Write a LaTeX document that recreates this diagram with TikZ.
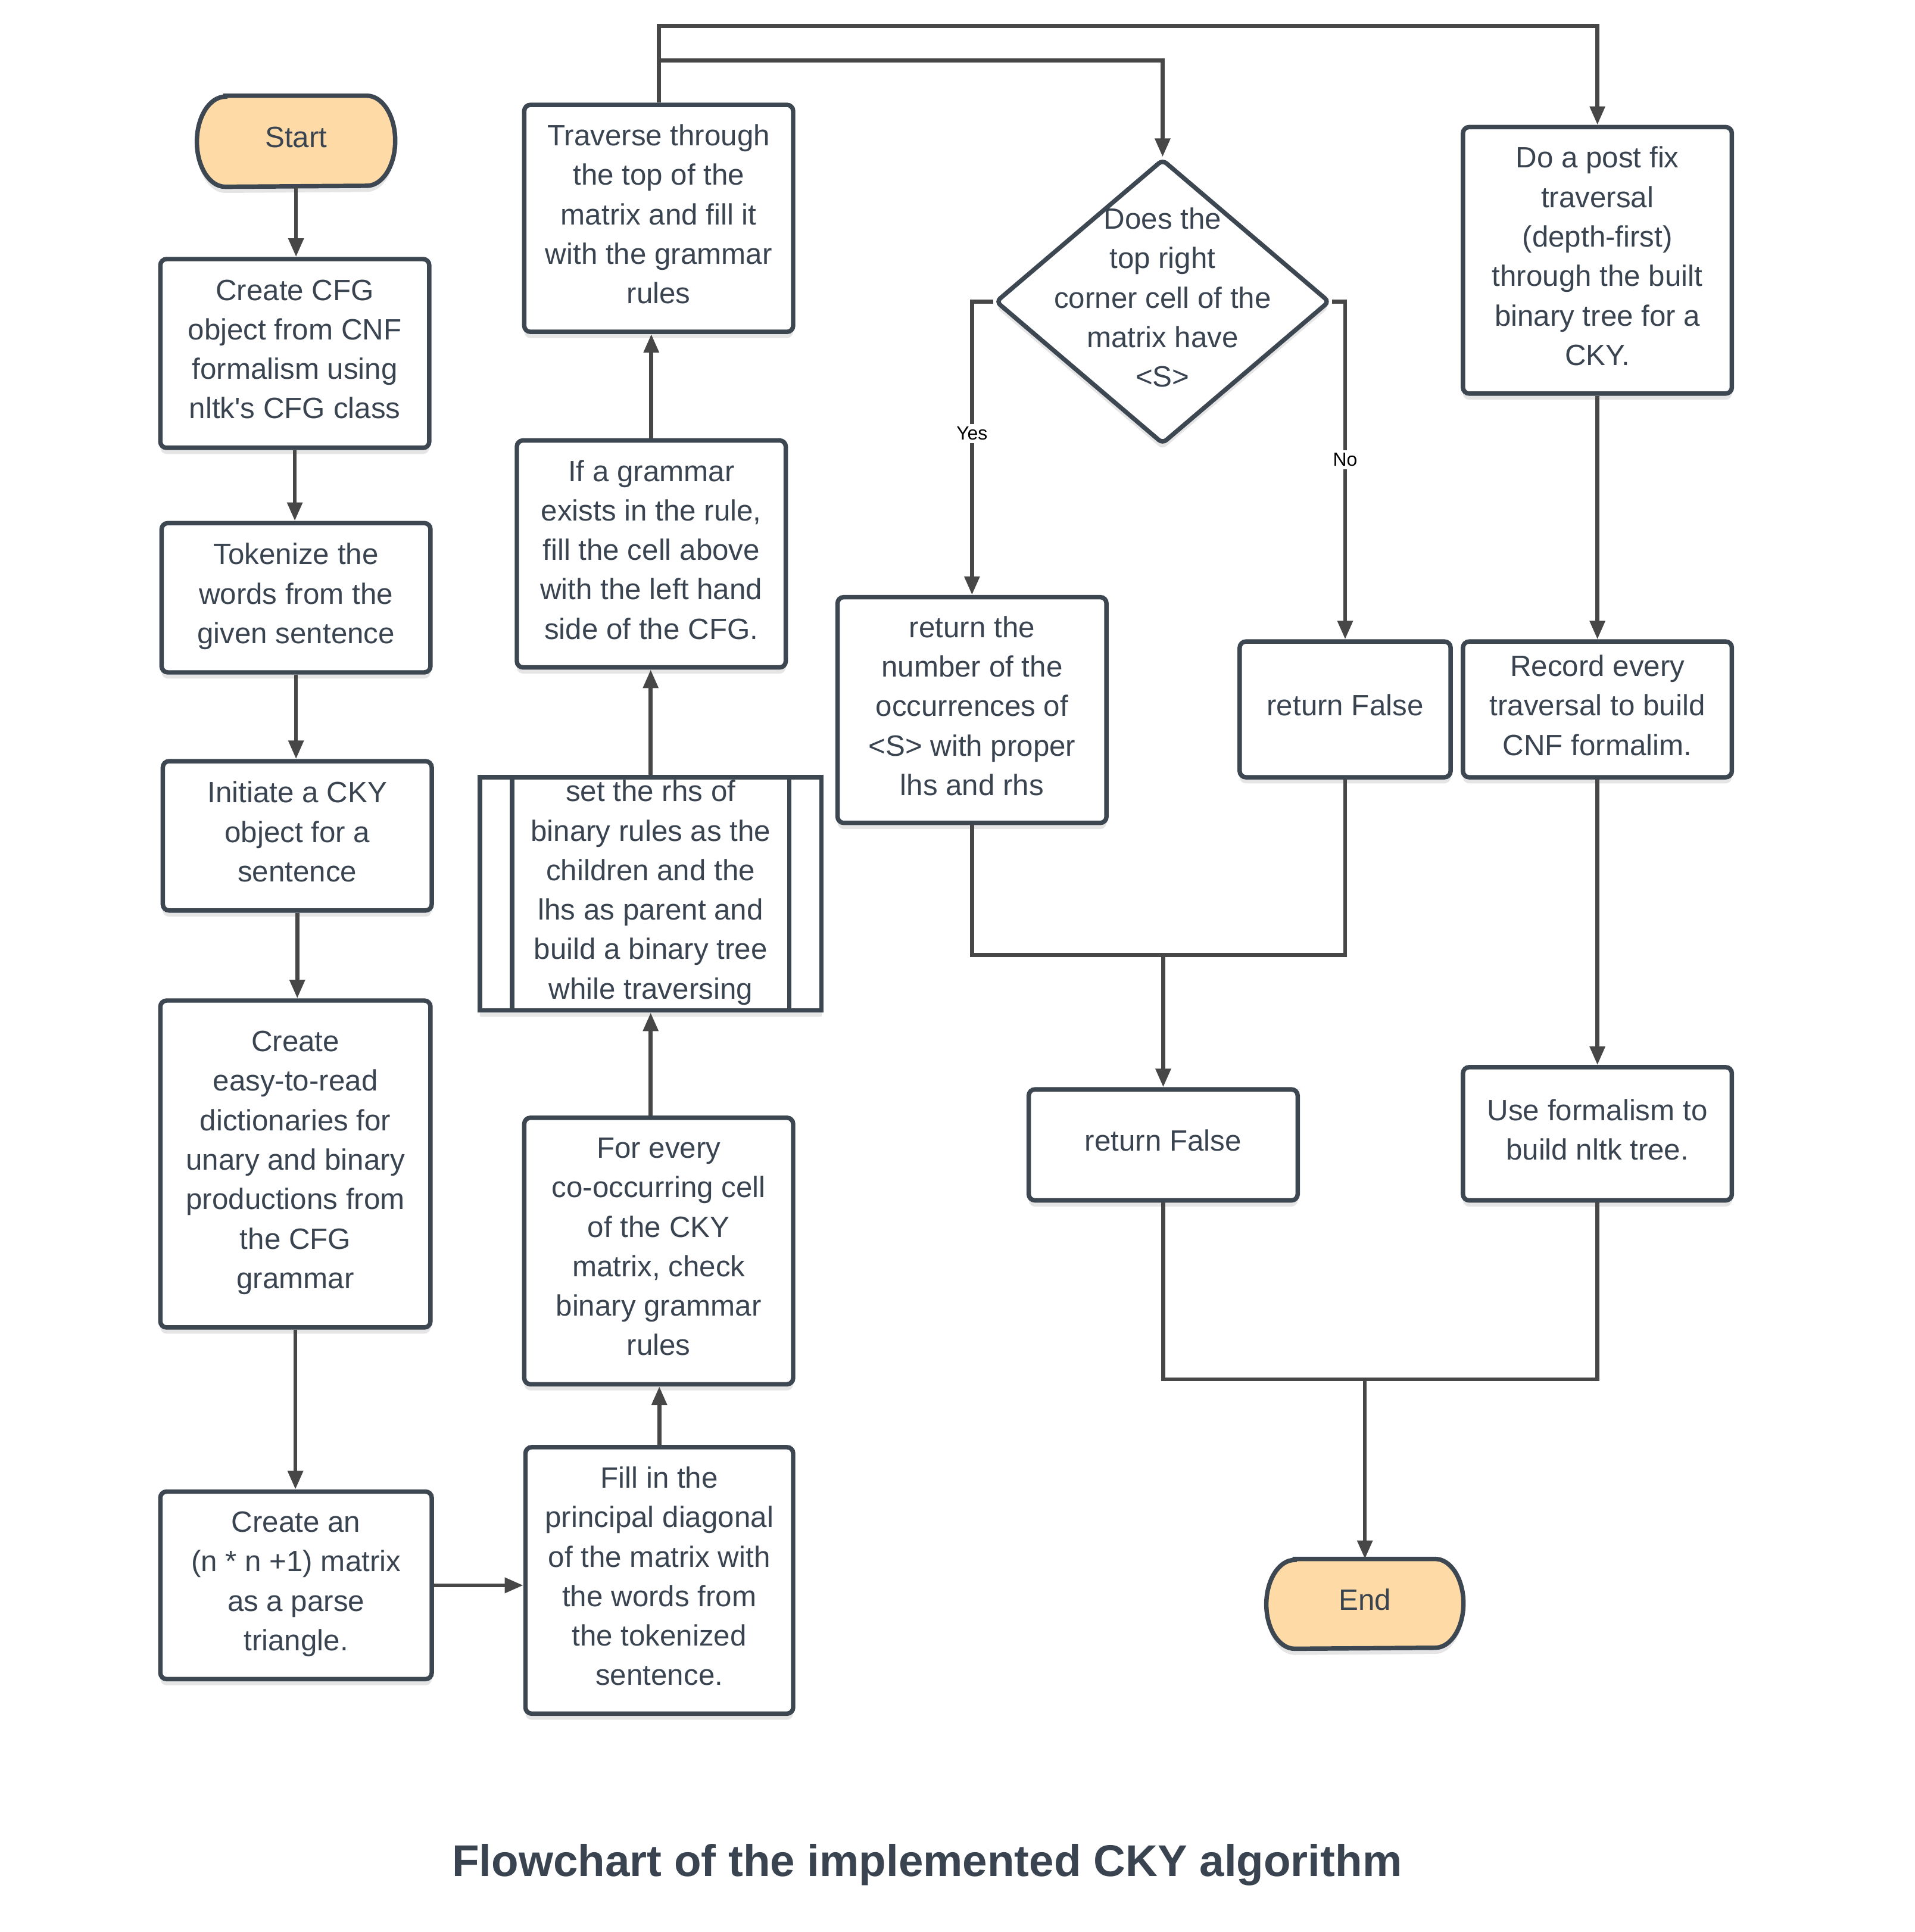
\documentclass[tikz,border=0pt]{standalone}
\usepackage{fontspec}
\setmainfont{Liberation Sans}[Ligatures=TeXOff]
\usetikzlibrary{arrows.meta,shapes.geometric,shadows,backgrounds}
\definecolor{boxc}{HTML}{3D4752}
\definecolor{linec}{HTML}{474747}
\definecolor{txtc}{HTML}{3A4450}
\definecolor{termfill}{HTML}{FDDAA6}
\tikzset{
  base/.style={font=\fontsize{11.9pt}{16pt}\selectfont, align=center, inner sep=0pt, text=txtc, text depth=3.5pt},
  shad/.style={drop shadow={shadow xshift=0pt, shadow yshift=-2.5pt, opacity=0.10, fill=black}},
  procbox/.style={base, draw=boxc, line width=1.8pt, fill=white, rounded corners=2.5pt, shad},
  subbox/.style={base, draw=boxc, line width=1.8pt, fill=white, shad},
  decbox/.style={diamond, draw=boxc, line width=1.8pt, fill=white, rounded corners=2pt, inner sep=0pt, shad},
  termtext/.style={base, draw=none},
  termshape/.style={fill=termfill, draw=boxc, line width=1.8pt, shad},
  boxline/.style={draw=boxc, line width=1.8pt},
  conn/.style={draw=linec, line width=1.6pt, -{Triangle[length=7.5pt,width=6pt]}},
  plainconn/.style={draw=linec, line width=1.6pt},
  edgelabel/.style={font=\fontsize{7.7pt}{9pt}\selectfont, text=black, fill=white, inner sep=1.2pt},
  titlestyle/.style={font=\bfseries\fontsize{18pt}{22pt}\selectfont, text=txtc, inner sep=0pt}
}
\begin{document}
\begin{tikzpicture}[x=0.5pt,y=-0.5pt]
\useasboundingbox (0,0) rectangle (1552,1566);

% left column
\node[termtext, minimum width=80pt, minimum height=36.5pt] (start) at (240,114.5) {Start};
\node[procbox, minimum width=109pt, minimum height=76.5pt] (cfg) at (239,286.5)
  {Create CFG\\object from CNF\\formalism using\\nltk's CFG class};
\node[procbox, minimum width=109pt, minimum height=60.5pt] (tok) at (240,484.5)
  {Tokenize the\\words from the\\given sentence};
\node[procbox, minimum width=109pt, minimum height=60.5pt] (init) at (241,677.5)
  {Initiate a CKY\\object for a\\sentence};
\node[procbox, minimum width=109.5pt, minimum height=132.5pt] (dict) at (239.5,943.5)
  {Create\\easy-to-read\\dictionaries for\\unary and binary\\productions from\\the CFG\\grammar};
\node[procbox, minimum width=110pt, minimum height=76pt] (mat) at (240,1285)
  {Create an\\(n * n +1) matrix\\as a parse\\triangle.};

% second column
\node[procbox, minimum width=108.5pt, minimum height=108pt] (fill) at (534.5,1281)
  {Fill in the\\principal diagonal\\of the matrix with\\the words from\\the tokenized\\sentence.};
\node[procbox, minimum width=109pt, minimum height=108pt] (every) at (534,1014)
  {For every\\co-occurring cell\\of the CKY\\matrix, check\\binary grammar\\rules};
\node[subbox, minimum width=138.5pt, minimum height=94.5pt] (sub) at (527.5,724.5)
  {set the rhs of\\binary rules as the\\children and the\\lhs as parent and\\build a binary tree\\while traversing};
\draw[boxline] ([xshift=14pt]sub.north west) -- ([xshift=14pt]sub.south west);
\draw[boxline] ([xshift=-14pt]sub.north east) -- ([xshift=-14pt]sub.south east);
\node[procbox, minimum width=109pt, minimum height=92pt] (ifg) at (528,449)
  {If a grammar\\exists in the rule,\\fill the cell above\\with the left hand\\side of the CFG.};
\node[procbox, minimum width=109pt, minimum height=92pt] (trav) at (534,177)
  {Traverse through\\the top of the\\matrix and fill it\\with the grammar\\rules};

% decision and results
\node[decbox, minimum width=135.5pt, minimum height=115.5pt,
  label={[base]center:Does the\\top right\\corner cell of the\\matrix have\\<S>}] (dia) at (942.5,244.5) {};
\node[procbox, minimum width=109pt, minimum height=91.5pt] (retn) at (788,575.5)
  {return the\\number of the\\occurrences of\\<S> with proper\\lhs and rhs};
\node[procbox, minimum width=85.5pt, minimum height=55pt] (rf1) at (1090.5,575) {return False};
\node[procbox, minimum width=109pt, minimum height=45pt] (rf2) at (943,928) {return False};

% right column
\node[procbox, minimum width=109pt, minimum height=108pt] (post) at (1295,211)
  {Do a post fix\\traversal\\(depth-first)\\through the built\\binary tree for a\\CKY.};
\node[procbox, minimum width=109pt, minimum height=55pt] (rec) at (1295,575)
  {Record every\\traversal to build\\CNF formalim.};
\node[procbox, minimum width=109pt, minimum height=54pt] (use) at (1295,919)
  {Use formalism to\\build nltk tree.};
\node[termtext, minimum width=79.5pt, minimum height=36pt] (end) at (1106.5,1300) {End};

% terminal shapes
\begin{scope}[on background layer]
\draw[termshape] ([xshift=11.5pt]start.north west) -- ([xshift=-11.5pt]start.north east)
  arc[start angle=90, end angle=-90, x radius=11.5pt, y radius=18.25pt]
  -- ([xshift=11.5pt]start.south west)
  arc[start angle=270, end angle=90, x radius=11.5pt, y radius=18.25pt] -- cycle;
\draw[termshape] ([xshift=11.5pt]end.north west) -- ([xshift=-11.5pt]end.north east)
  arc[start angle=90, end angle=-90, x radius=11.5pt, y radius=18pt]
  -- ([xshift=11.5pt]end.south west)
  arc[start angle=270, end angle=90, x radius=11.5pt, y radius=18pt] -- cycle;
\end{scope}

% title
\node[titlestyle, anchor=base] (title) at (751.5,1521) {Flowchart of the implemented CKY algorithm};

% connectors: left column
\draw[conn] (start.south) -- (start.south |- cfg.north);
\draw[conn] (cfg.south) -- (cfg.south |- tok.north);
\draw[conn] (tok.south) -- (tok.south |- init.north);
\draw[conn] (init.south) -- (init.south |- dict.north);
\draw[conn] (dict.south) -- (dict.south |- mat.north);
\draw[conn] (mat.east) -- (mat.east -| fill.west);

% second column upward
\draw[conn] (fill.north) -- (fill.north |- every.south);
\draw[conn] (sub.south |- every.north) -- (sub.south);
\draw[conn] (sub.north) -- (sub.north |- ifg.south);
\draw[conn] (ifg.north) -- (ifg.north |- trav.south);

% from traverse to decision and post-fix
\coordinate (t1) at (534,49);
\coordinate (t2) at (534,21);
\draw[conn] (trav.north) -- (t1) -| (dia.north);
\draw[conn] (trav.north) -- (t2) -| (post.north);

% decision branches
\draw[conn] (dia.west) -| node[edgelabel, pos=0.725] {Yes} (retn.north);
\draw[conn] (dia.east) -| node[edgelabel, pos=0.734] {No} (rf1.north);

% merge to lower return False
\coordinate (j1) at (943,774);
\draw[plainconn] (retn.south) |- (j1);
\draw[plainconn] (rf1.south) |- (j1);
\draw[conn] (j1) -- (rf2.north);

% right column
\draw[conn] (post.south) -- (rec.north);
\draw[conn] (rec.south) -- (use.north);

% merge to End
\coordinate (j2) at (1106.5,1118);
\draw[plainconn] (rf2.south) |- (j2);
\draw[plainconn] (use.south) |- (j2);
\draw[conn] (j2) -- (end.north);
\end{tikzpicture}
\end{document}
